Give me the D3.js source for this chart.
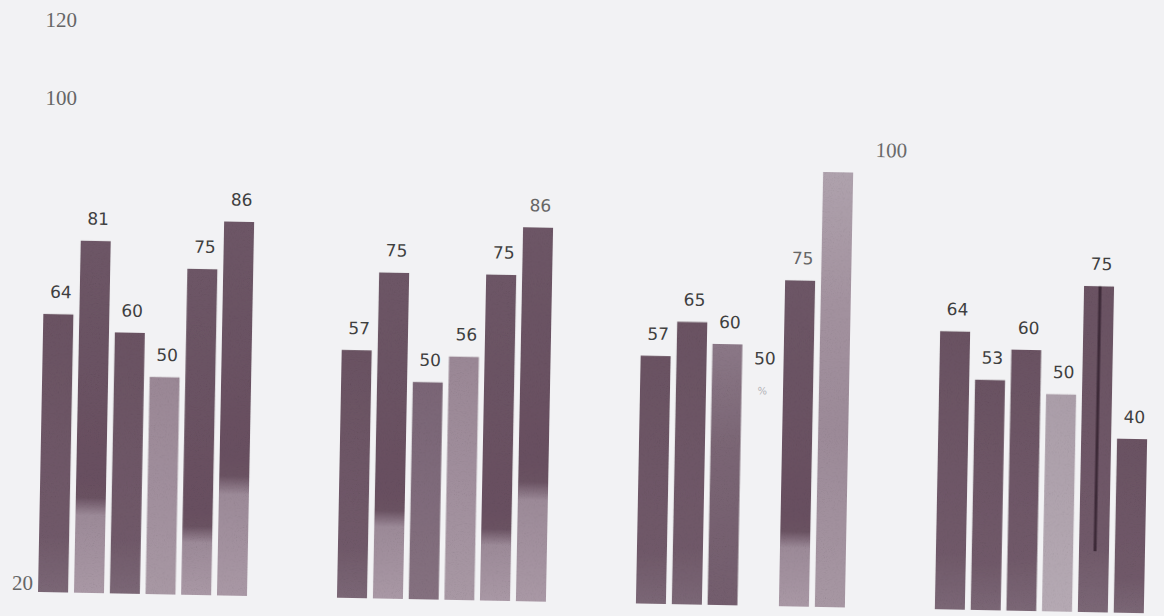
<!DOCTYPE html>
<html>
<head>
<meta charset="utf-8">
<script src="https://cdn.jsdelivr.net/npm/d3@7"></script>
<style>
  html, body { margin: 0; padding: 0; background: #f2f2f4; }
  #chart { width: 1164px; height: 616px; }
</style>
</head>
<body>
<div id="chart"></div>
<script>
// values, one array per group (six bars each)
const groups = ["g1", "g2", "g3", "g4"];
const series = ["s1", "s2", "s3", "s4", "s5", "s6"];
const group1Values = [64, 81, 60, 50, 75, 86];
const group2Values = [57, 75, 50, 56, 75, 86];
const group3Values = [57, 65, 60, 50, 75, 100];
const group4Values = [64, 53, 60, 50, 75, 40];
const yTickValues = [20, 100, 120];

// bars that carry a label but no drawn bar (group index, series index)
const missingBars = [[2, 3]];
// labels printed lighter, and the one printed beside its bar
const faintLabels = [[1, 5], [2, 4]];
const sideLabels = [[2, 5]];
// dark streak down one bar, ending at this value
const streak = { g: 3, s: 4, to: 14 };

// shading of each bar (styles only)
const barShades = [
    ["dark", "split:0.75", "dark", "light", "split:0.81", "split:0.70"],
    ["dark", "split:0.75", "mid", "light", "split:0.80", "split:0.70"],
    ["dark", "dark", "fade", "dark", "split:0.79", "pale"],
    ["dark", "dark", "dark", "veryLight", "dark", "dark"]
];

const allValues = [group1Values, group2Values, group3Values, group4Values];

function drawChart() {
    const W = 1164, H = 616;
    const svg = d3.select("#chart").append("svg")
        .attr("width", W)
        .attr("height", H);

    svg.append("rect")
        .attr("width", W)
        .attr("height", H)
        .attr("fill", "#f2f2f4");

    const defs = svg.append("defs");

    // grain for the scanned look
    const grain = defs.append("filter").attr("id", "grain")
        .attr("x", "-5%").attr("y", "-5%").attr("width", "110%").attr("height", "110%");
    grain.append("feTurbulence")
        .attr("type", "fractalNoise")
        .attr("baseFrequency", 0.9)
        .attr("numOctaves", 2)
        .attr("seed", 4)
        .attr("result", "noise");
    grain.append("feColorMatrix")
        .attr("in", "noise").attr("type", "saturate").attr("values", 0).attr("result", "gray");
    const ct = grain.append("feComponentTransfer").attr("in", "gray").attr("result", "soft");
    ["feFuncR", "feFuncG", "feFuncB"].forEach(f =>
        ct.append(f).attr("type", "linear").attr("slope", 0.9).attr("intercept", 0.55));
    grain.append("feBlend")
        .attr("in", "SourceGraphic").attr("in2", "soft").attr("mode", "multiply").attr("result", "mixed");
    grain.append("feComposite")
        .attr("in", "mixed").attr("in2", "SourceGraphic").attr("operator", "in");

    function stopsFor(shade) {
        if (shade.startsWith("split")) {
            const b = +shade.split(":")[1];
            return [[0, "#6d5666"], [b - 0.08, "#684f60"], [b - 0.02, "#6a5262"],
                    [b + 0.03, "#9c8a98"], [1, "#a998a5"]];
        }
        switch (shade) {
            case "mid": return [[0, "#7a6576"], [1, "#84707f"]];
            case "light": return [[0, "#9a8795"], [0.5, "#a08e9c"], [1, "#a898a4"]];
            case "veryLight": return [[0, "#ab9ea9"], [1, "#b5a9b3"]];
            case "fade": return [[0, "#8b7887"], [0.4, "#7a6574"], [1, "#735d6d"]];
            case "pale": return [[0, "#afa2ad"], [0.3, "#a3929f"], [0.6, "#9c8a98"], [1, "#a797a3"]];
            default: return [[0, "#6a5262"], [0.8, "#705969"], [1, "#7b6776"]];
        }
    }

    // tilt of the scanned page
    const pivot = [40, 592];
    const tilt = 1.1;

    // Scales
    const x0 = d3.scaleBand()
        .domain(groups)
        .range([38, 1144])
        .paddingInner(0.3)
        .paddingOuter(0);

    const x1 = d3.scaleBand()
        .domain(series)
        .range([0, x0.bandwidth()])
        .paddingInner(0.15)
        .paddingOuter(0);

    const y = d3.scaleLinear()
        .domain([0, 100])
        .range([592, 157]);

    // the printed tick labels do not sit on an even scale
    const yTick = d3.scaleLinear()
        .domain(yTickValues)
        .range([583, 98, 20]);

    const axis = svg.append("g")
        .attr("transform", "translate(81,0)")
        .call(d3.axisLeft(yTick).tickValues(yTickValues).tickSize(0).tickPadding(4));
    axis.select(".domain").remove();
    axis.selectAll("text")
        .attr("font-family", "'Liberation Serif', serif")
        .attr("font-size", 21)
        .attr("fill", "#666")
        .attr("x", d => d === 20 ? -48 : -4);

    const has = (list, gi, si) => list.some(p => p[0] === gi && p[1] === si);

    const data = [];
    allValues.forEach((vals, gi) => {
        vals.forEach((v, si) => {
            data.push({ gi, si, g: groups[gi], s: series[si], v });
        });
    });

    data.forEach(d => {
        const grad = defs.append("linearGradient")
            .attr("id", `shade-${d.gi}-${d.si}`)
            .attr("x1", 0).attr("y1", 0).attr("x2", 0).attr("y2", 1);
        stopsFor(barShades[d.gi][d.si]).forEach(s => {
            grad.append("stop").attr("offset", s[0]).attr("stop-color", s[1]);
        });
    });

    const chart = svg.append("g")
        .attr("transform", `rotate(${tilt},${pivot[0]},${pivot[1]})`);

    const bars = chart.append("g").attr("filter", "url(#grain)");

    bars.selectAll("rect")
        .data(data.filter(d => !has(missingBars, d.gi, d.si)))
        .enter()
        .append("rect")
        .attr("x", d => x0(d.g) + x1(d.s))
        .attr("y", d => y(d.v))
        .attr("width", x1.bandwidth())
        .attr("height", d => y(0) - y(d.v))
        .attr("fill", d => `url(#shade-${d.gi}-${d.si})`);

    // dark streak on one bar
    const sx = x0(groups[streak.g]) + x1(series[streak.s]) + x1.bandwidth() / 2 + 1;
    bars.append("line")
        .attr("x1", sx).attr("x2", sx)
        .attr("y1", y(allValues[streak.g][streak.s]))
        .attr("y2", y(streak.to))
        .attr("stroke", "#3e2a39")
        .attr("stroke-width", 3);

    // value labels
    chart.selectAll(".val")
        .data(data)
        .enter()
        .append("text")
        .attr("class", "val")
        .attr("x", d => has(sideLabels, d.gi, d.si)
            ? x0(d.g) + x1(d.s) + x1.bandwidth() + 22
            : x0(d.g) + x1(d.s) + x1.bandwidth() / 2 + 2)
        .attr("y", d => y(d.v) - (has(missingBars, d.gi, d.si) ? 24 : 16))
        .attr("text-anchor", d => has(sideLabels, d.gi, d.si) ? "start" : "middle")
        .attr("font-family", d => has(sideLabels, d.gi, d.si) ? "'Liberation Serif', serif" : "'DejaVu Sans', sans-serif")
        .attr("font-size", d => has(sideLabels, d.gi, d.si) ? 21 : 17)
        .attr("fill", d => has(sideLabels, d.gi, d.si) ? "#6a6a6a"
            : has(faintLabels, d.gi, d.si) ? "#666" : "#3f3f3f")
        .text(d => d.v);

    // faint mark where the missing bar would start
    chart.selectAll(".ghost")
        .data(data.filter(d => has(missingBars, d.gi, d.si)))
        .enter()
        .append("text")
        .attr("class", "ghost")
        .attr("x", d => x0(d.g) + x1(d.s) + x1.bandwidth() / 2)
        .attr("y", d => y(d.v) + 6)
        .attr("text-anchor", "middle")
        .attr("font-family", "'DejaVu Sans', sans-serif")
        .attr("font-size", 10)
        .attr("fill", "#b4b4b8")
        .text("%");
}

drawChart();
</script>
</body>
</html>
